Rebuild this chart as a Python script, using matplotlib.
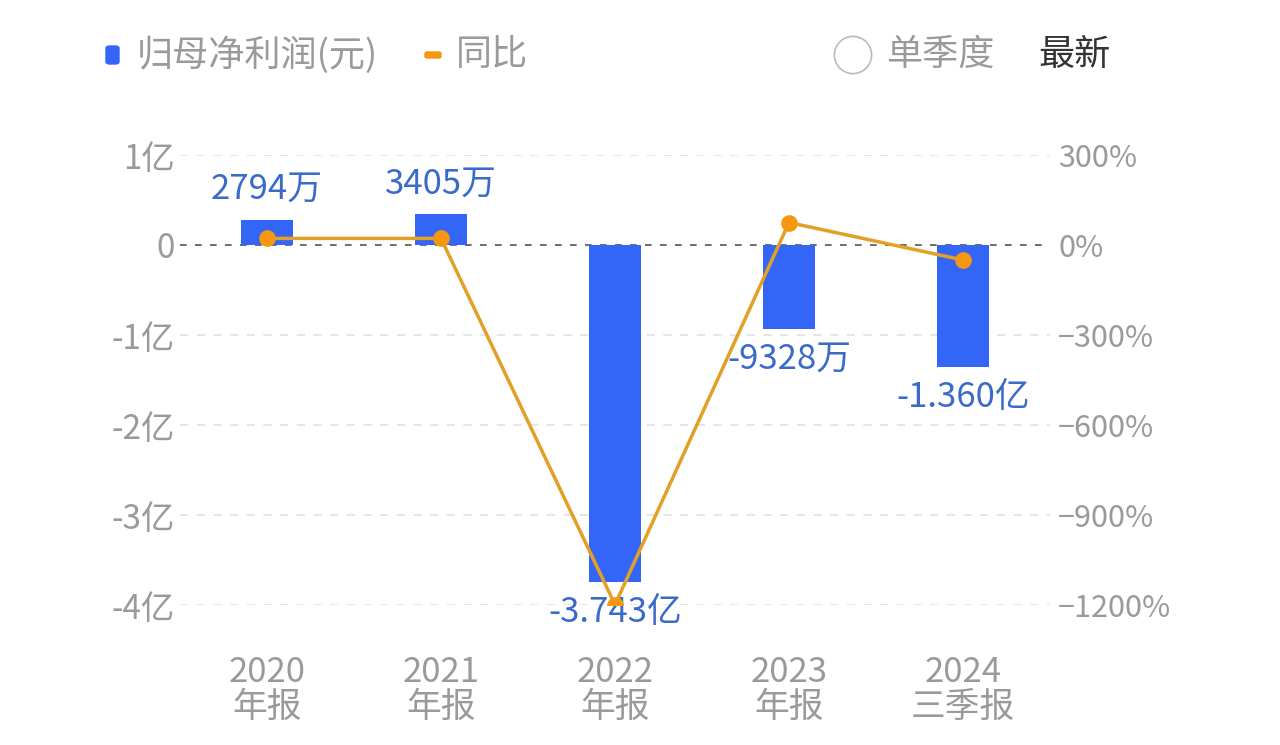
import matplotlib
matplotlib.use("Agg")
import matplotlib.pyplot as plt
from matplotlib.patches import FancyBboxPatch, Circle

plt.rcParams['font.family'] = ['Noto Sans CJK SC', 'DejaVu Sans']

categories = ["2020\n年报", "2021\n年报", "2022\n年报", "2023\n年报", "2024\n三季报"]
profit_yi = [0.2794, 0.3405, -3.743, -0.9328, -1.360]
profit_labels = ["2794万", "3405万", "-3.743亿", "-9328万", "-1.360亿"]
yoy_pct = [22, 22, -1199, 75, -50]
left_ticks = [1, 0, -1, -2, -3, -4]
left_ticklabels = ["1亿", "0", "-1亿", "-2亿", "-3亿", "-4亿"]
right_ticks = [300, 0, -300, -600, -900, -1200]
right_ticklabels = ["300%", "0%", "−300%", "−600%", "−900%", "−1200%"]

BAR = "#3366F6"
LABEL = "#3A6BC9"
LINE = "#E3A027"
DOT = "#F5980F"
GRAY = "#9A9A9A"

fig = plt.figure(figsize=(12.8, 7.45), dpi=100)
ax = fig.add_axes([180/1280, 140/745, 870/1280, 450/745])
x = list(range(len(categories)))

ax.bar(x, profit_yi, width=0.3, color=BAR, zorder=2)
ax.set_xlim(-0.5, len(categories) - 0.5)
ax.set_ylim(-4, 1)
ax.set_yticks(left_ticks)
ax.set_yticklabels(left_ticklabels)
ax.set_xticks(x)
ax.set_xticklabels(categories, linespacing=1.0)
for s in ax.spines.values():
    s.set_visible(False)
ax.tick_params(axis='both', length=0, labelcolor=GRAY)
ax.tick_params(axis='y', pad=4, labelsize=24)
ax.tick_params(axis='x', pad=36, labelsize=25)
for t in left_ticks:
    if t == 0:
        ax.axhline(0, color="#555555", lw=1.2, ls=(0, (4, 5)), zorder=1)
    else:
        ax.axhline(t, color="#E2E2E2", lw=1.2, ls=(0, (5, 5)), zorder=1)

for xi, v, lab in zip(x, profit_yi, profit_labels):
    off = 22 if v >= 0 else -22
    ax.annotate(lab, (xi, v), xytext=(0, off), textcoords="offset points",
                ha="center", va="center", fontsize=25, color=LABEL, zorder=5)

ax2 = ax.twinx()
ax2.set_ylim(-1200, 300)
ax2.set_yticks(right_ticks)
ax2.set_yticklabels(right_ticklabels)
for s in ax2.spines.values():
    s.set_visible(False)
ax2.tick_params(axis='y', length=0, labelsize=22, labelcolor=GRAY, pad=6)
ax2.plot(x, yoy_pct, color=LINE, lw=2.5, zorder=3)
ax2.plot(x, yoy_pct, 'o', color=DOT, ms=11, zorder=4)

# legend
fig.patches.append(FancyBboxPatch((106/1280, (745-64)/745), 13/1280, 18/745,
                                  boxstyle="round,pad=0,rounding_size=0.003",
                                  transform=fig.transFigure, color=BAR))
fig.text(137/1280, (745-55)/745, "归母净利润(元)", fontsize=26, color=GRAY, va="center")
fig.patches.append(FancyBboxPatch((425/1280, (745-58)/745), 16/1280, 6/745,
                                  boxstyle="round,pad=0,rounding_size=0.002",
                                  transform=fig.transFigure, color=DOT))
fig.text(456/1280, (745-55)/745, "同比", fontsize=26, color=GRAY, va="center")

circ_ax = fig.add_axes([833/1280, (745-75)/745, 40/1280, 40/745])
circ_ax.set_xlim(-1, 1); circ_ax.set_ylim(-1, 1); circ_ax.axis("off")
circ_ax.add_patch(Circle((0, 0), 0.93, fill=False, ec="#BBBBBB", lw=1.2))
circ_ax.set_aspect("equal")
fig.text(886/1280, (745-55)/745, "单季度", fontsize=26, color=GRAY, va="center")
fig.text(1038/1280, (745-55)/745, "最新", fontsize=26, color="#333333", va="center")

fig.savefig("out.png", dpi=100, facecolor="white")
